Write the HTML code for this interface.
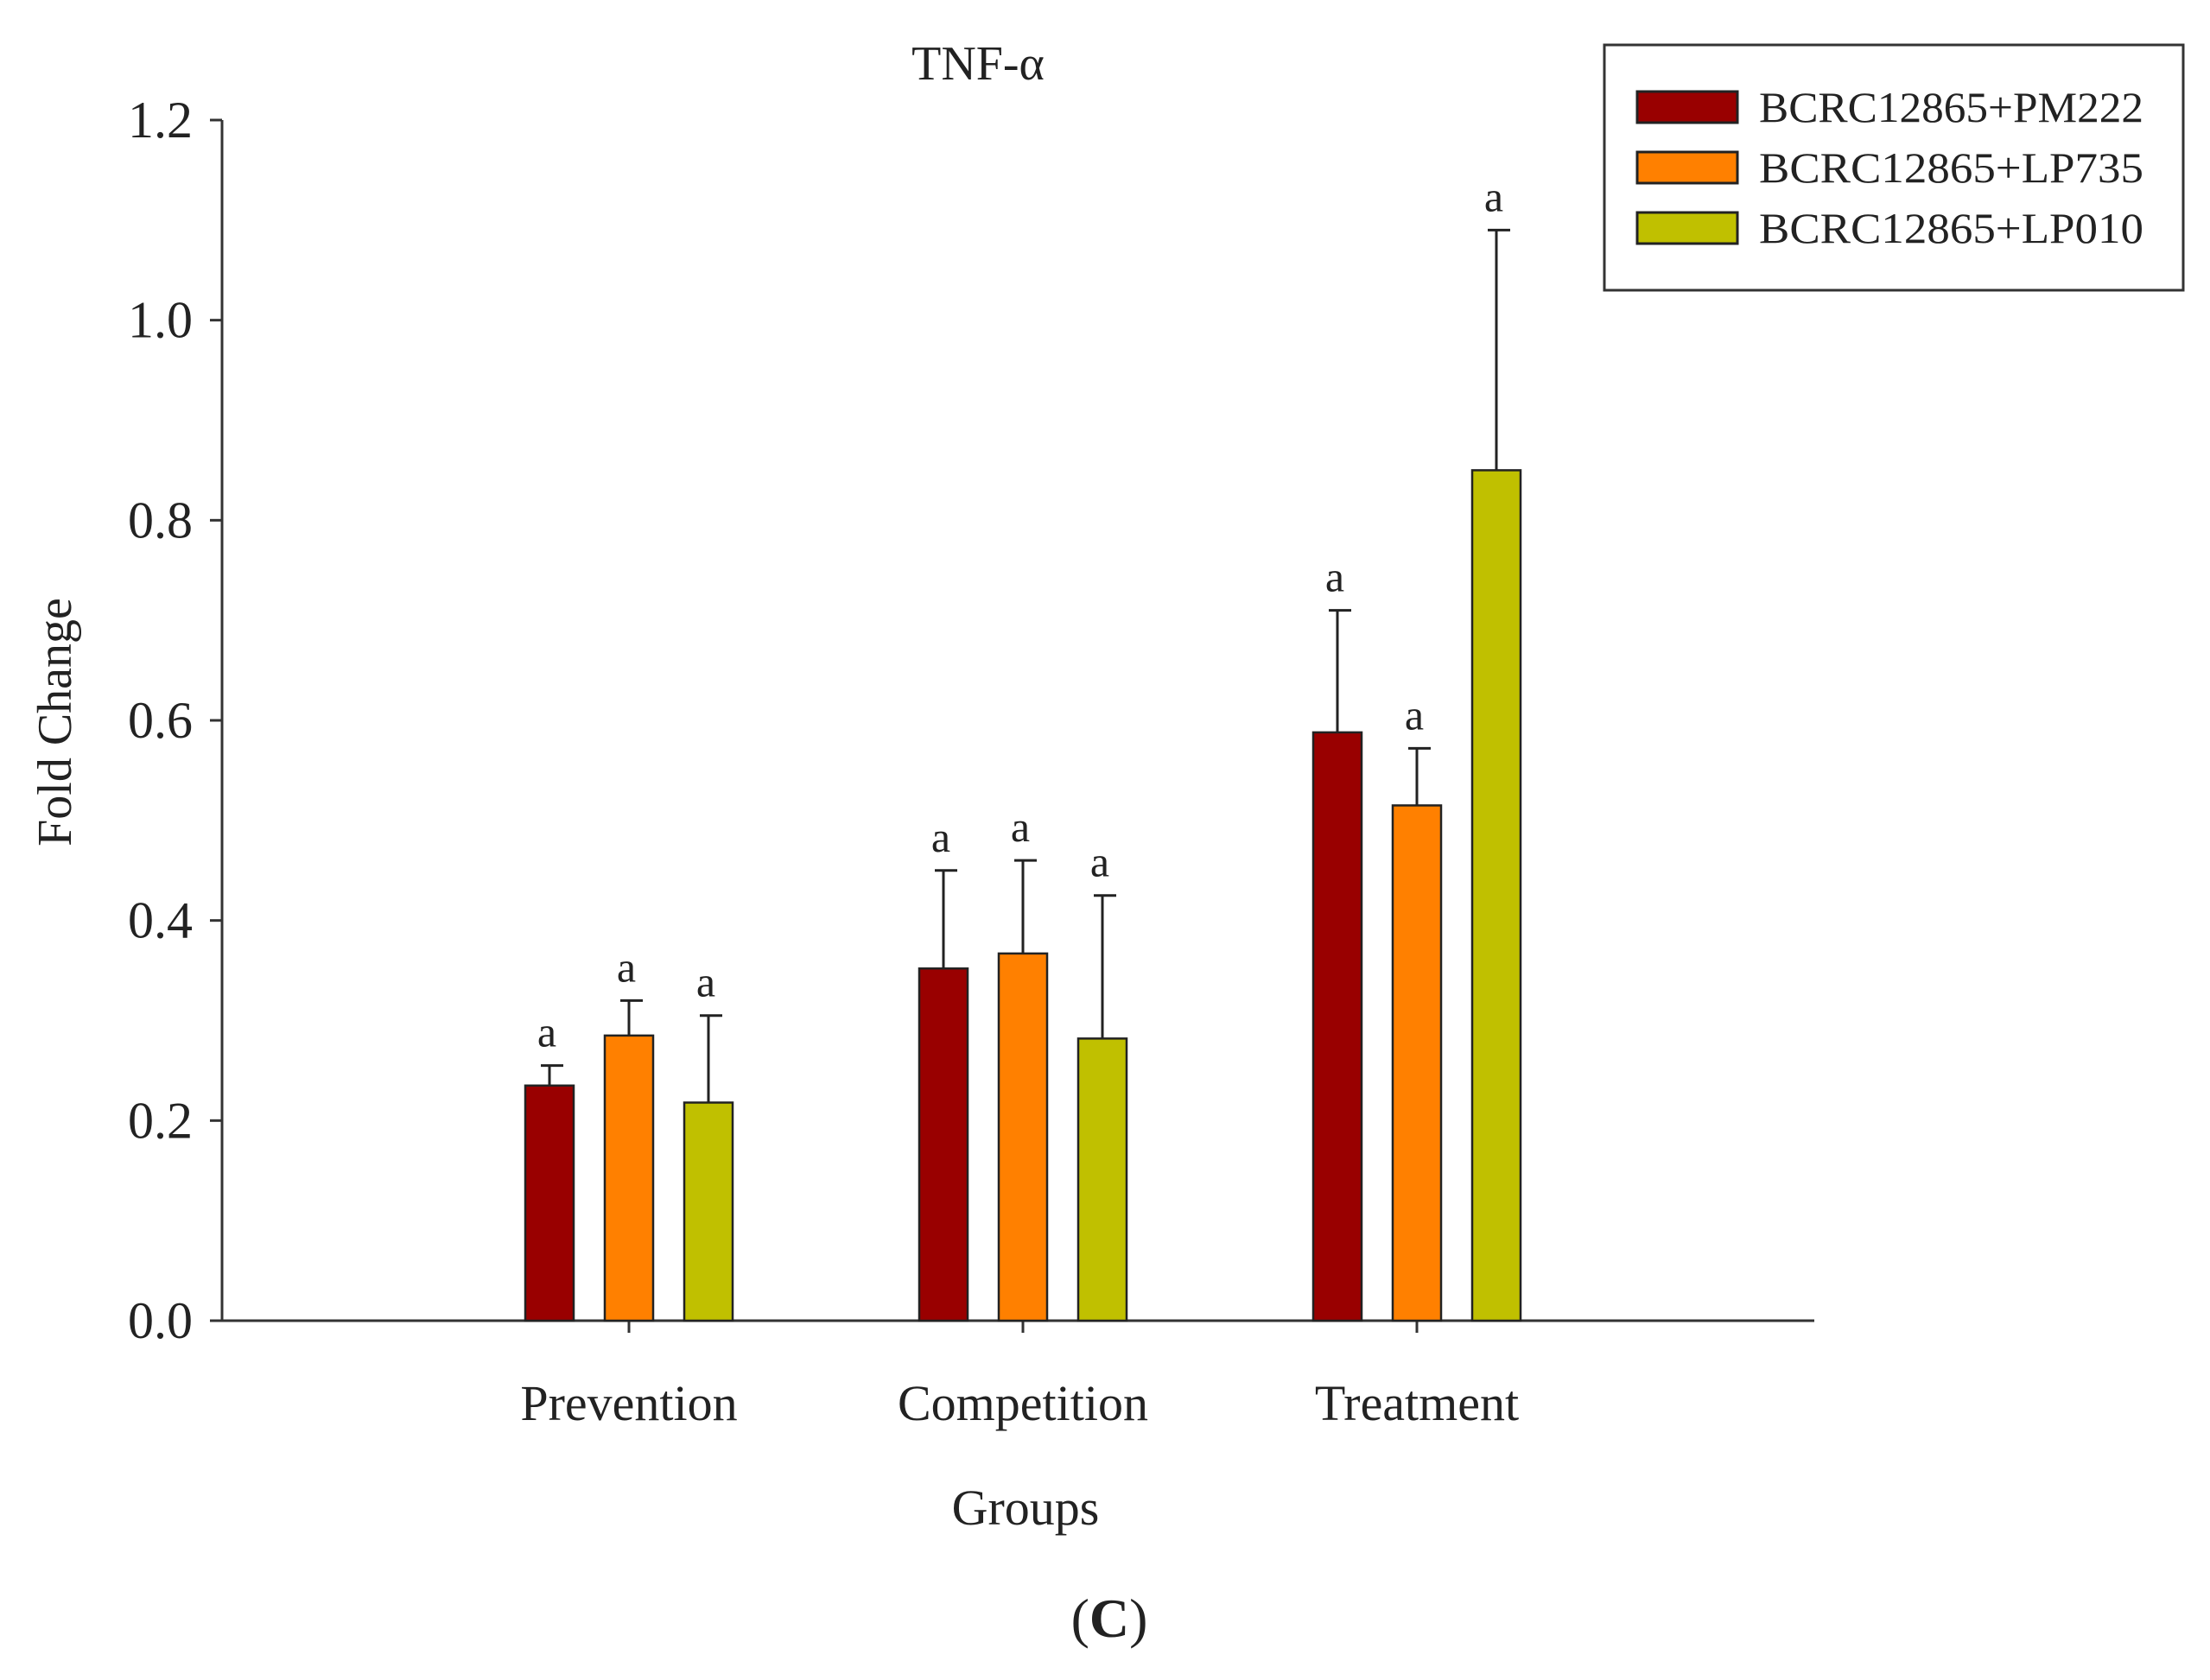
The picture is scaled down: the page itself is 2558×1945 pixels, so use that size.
<!DOCTYPE html>
<html><head><meta charset="utf-8"><style>
body{margin:0;background:#fff}
svg{display:block}
text{font-family:"Liberation Serif",serif;fill:#222}
</style></head><body>
<svg id="chart" width="2558" height="1945" viewBox="0 0 2558 1945" xmlns="http://www.w3.org/2000/svg">
<text x="1132" y="92" font-size="56" text-anchor="middle">TNF-α</text>
<g id="axes"></g>
<g id="bars"></g>
<text transform="translate(82,836) rotate(-90)" font-size="56" text-anchor="middle" fill="#444">Fold Change</text>
<text x="1187" y="1765" font-size="58" text-anchor="middle">Groups</text>
<text x="1284" y="1895" font-size="64" text-anchor="middle">(<tspan font-weight="bold">C</tspan>)</text>
<g>
<rect x="1857" y="52" width="670" height="284" fill="#fff" stroke="#333" stroke-width="3"/>
<g id="legend-entries"></g>
</g>
</svg>
<script>
const categories=["Prevention","Competition","Treatment"];
const seriesNames=["BCRC12865+PM222","BCRC12865+LP735","BCRC12865+LP010"];
const pm222=[0.235,0.352,0.588];
const lp735=[0.285,0.367,0.515];
const lp010=[0.218,0.282,0.850];
const pm222Err=[0.02,0.098,0.122];
const lp735Err=[0.035,0.093,0.057];
const lp010Err=[0.087,0.143,0.24];
const yTicks=[0,0.2,0.4,0.6,0.8,1.0,1.2];
const yTickLabels=["0.0","0.2","0.4","0.6","0.8","1.0","1.2"];
const colors=["#990000","#ff8000","#c0c000"];
const NS="http://www.w3.org/2000/svg";
const y0=1529,yTop=139,xL=257,xR=2100;
function y(v){return y0-(v/1.2)*(y0-yTop);}
function xc(i){return 728+i*456;}
function mk(tag,attrs,parent){const e=document.createElementNS(NS,tag);for(const k in attrs)e.setAttribute(k,attrs[k]);parent.appendChild(e);return e;}
const axes=document.getElementById('axes');
let l=mk('line',{x1:xL,y1:yTop,x2:xL,y2:y0,stroke:'#333','stroke-width':3},axes);


l=mk('line',{x1:xL,y1:y0,x2:xR,y2:y0,stroke:'#333','stroke-width':3},axes);


yTicks.forEach((v,i)=>{
 const t=mk('line',{x1:xL-14,y1:y(v),x2:xL,y2:y(v),stroke:'#333','stroke-width':3},axes);
 
 
 const tx=mk('text',{x:xL-34,y:y(v)+20,'font-size':60,'text-anchor':'end'},axes);
 tx.textContent=yTickLabels[i];
 
 
});
categories.forEach((c,i)=>{
 const t=mk('line',{x1:xc(i),y1:y0,x2:xc(i),y2:y0+14,stroke:'#333','stroke-width':3},axes);
 
 
 const tx=mk('text',{x:xc(i),y:1644,'font-size':58,'text-anchor':'middle'},axes);
 tx.textContent=c;
 
 
});
const bars=document.getElementById('bars');
const vals=[pm222,lp735,lp010],errs=[pm222Err,lp735Err,lp010Err];
const bw=56,step=92;
categories.forEach((c,i)=>{
 vals.forEach((s,j)=>{
  const cx=xc(i)+(j-1)*step;
  const r=mk('rect',{x:cx-bw/2,y:y(s[i]),width:bw,height:y0-y(s[i]),fill:colors[j],stroke:'#222','stroke-width':2.5},bars);
  
  
  const top=y(s[i]+errs[j][i]);
  const e=mk('path',{d:`M${cx} ${y(s[i])}V${top}M${cx-10} ${top}H${cx+16}`,stroke:'#222','stroke-width':3,fill:'none'},bars);
  
  
  const a=mk('text',{x:cx-3,y:top-22,'font-size':50,'text-anchor':'middle'},bars);
  a.textContent='a';
  
  
 });
});
const leg=document.getElementById('legend-entries');
seriesNames.forEach((n,j)=>{
 const yy=124+j*70;
 const r=mk('rect',{x:1895,y:yy-18,width:116,height:36,fill:colors[j],stroke:'#222','stroke-width':3},leg);
 
 
 const t=mk('text',{x:2036,y:yy+17,'font-size':50,textLength:445,lengthAdjust:'spacingAndGlyphs'},leg);
 t.textContent=n;
 
 
});
</script>
</body></html>
